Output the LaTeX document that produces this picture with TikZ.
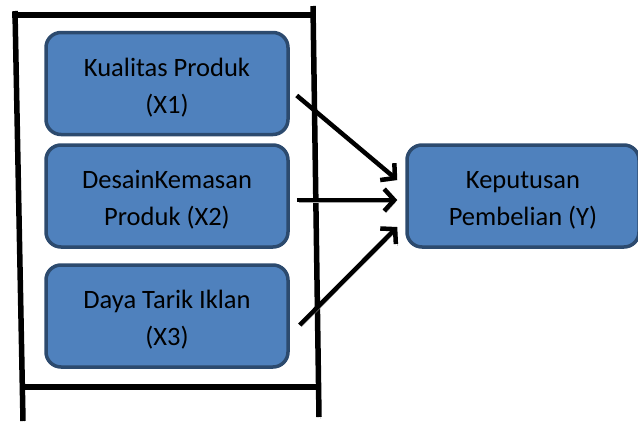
\documentclass[tikz,border=0pt]{standalone}
\usepackage{fontspec}
\setmainfont{Carlito}
\usepackage{xcolor}
\usetikzlibrary{arrows.meta,positioning}
\definecolor{boxfill}{HTML}{4F81BD}
\definecolor{boxline}{HTML}{2C4A6E}
\tikzset{
  var/.style={rectangle,rounded corners=15pt,draw=boxline,line width=3.5pt,fill=boxfill,
    minimum width=242pt,minimum height=102pt,align=center,font=\fontsize{26.5}{37}\selectfont},
  shade/.style={preaction={draw=black!35,transform canvas={shift={(1.8pt,-1.8pt)}}}},
  arr/.style={shade,line width=4.5pt,-{Straight Barb[length=10pt,width=22pt,line width=4.5pt]}},
  frame/.style={shade,line width=5.5pt}
}
\begin{document}
\begin{tikzpicture}[x=1pt,y=-1pt]
\useasboundingbox (0,0) rectangle (638,421);
% kerangka
\draw[frame] (12,15) -- (314,15);
\draw[frame] (22,387) -- (318,387);
\draw[frame] (15,11) -- (23,421);
\draw[frame] (313,6) -- (319,417);
% variabel
\node[var] (xa) at (167,83.5){\strut Kualitas Produk\\(X1)};
\node[var] (xb) at (167,196){\strut DesainKemasan\\Produk (X2)};
\node[var] (xc) at (167,316){\strut Daya Tarik Iklan\\(X3)};
\node[var,minimum width=232pt] (y) at (523,196){\strut Keputusan\\Pembelian (Y)};
\draw[arr] ([xshift=7pt,yshift=-12pt]xa.east) -- ([xshift=-8pt,yshift=16pt]y.west);
\draw[arr] ([xshift=7pt,yshift=-4pt]xb.east) -- ([xshift=-8pt,yshift=-4pt]y.west);
\draw[arr] ([xshift=10pt,yshift=-9pt]xc.east) -- ([xshift=-8pt,yshift=-31pt]y.west);
\end{tikzpicture}
\end{document}
